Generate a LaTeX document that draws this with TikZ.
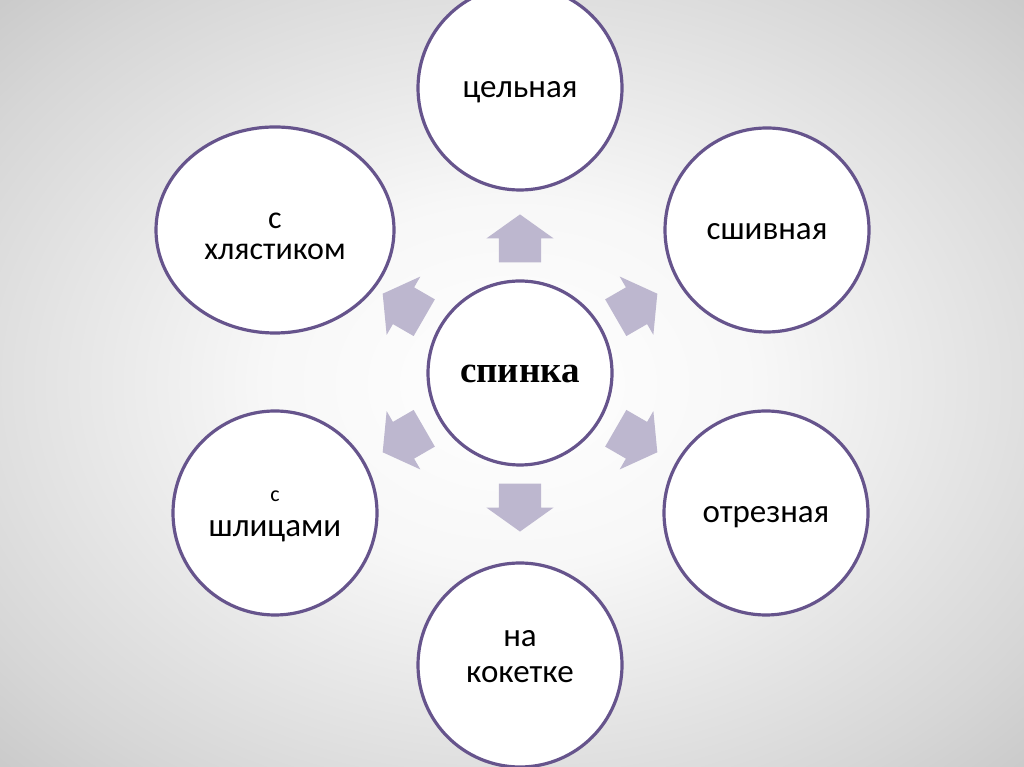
\documentclass[tikz,border=0pt]{standalone}
\usepackage{fontspec}
\setmainfont{Carlito}
\newfontfamily\titlefont{Liberation Serif}
\usetikzlibrary{shapes.geometric,shapes.arrows}
\definecolor{RingPurple}{RGB}{102,84,140}
\definecolor{ArrowLilac}{RGB}{189,183,207}
\pgfdeclareradialshading{bgglow}{\pgfpoint{0bp}{0bp}}{%
  color(0bp)=(white); color(12bp)=(white!97!black);
  color(30bp)=(white!84!black); color(50bp)=(white!67!black)}

\tikzset{
  ring/.style={circle, draw=RingPurple, line width=3.2pt, fill=white,
    minimum size=204pt, inner sep=0pt, align=center,
    text height=20pt, text depth=0pt,
    font=\fontsize{33}{36}\selectfont},
  blockarrow/.style={single arrow, fill=ArrowLilac, draw=none,
    minimum height=48pt, minimum width=67pt, inner xsep=0pt, inner ysep=21pt,
    single arrow head extend=12.5pt, single arrow tip angle=109}
}

\begin{document}
\begin{tikzpicture}[x=1pt, y=1pt]

  % --- Frame and background ---
  \useasboundingbox (0,0) rectangle (1024,767);
  \clip (0,0) rectangle (1024,767);
  \shade[shading=bgglow] (0,0) rectangle (1024,767);

  % --- Centre ---
  \node[ring, minimum size=184pt, font=\titlefont\bfseries\fontsize{37}{40}\selectfont]
    (spinka) at (520,394) {спинка};

  % --- Outer rings ---
  \node[ring] (celnaya)  at (520,679) {цельная};
  \node[ring] (sshivnaya) at (767,537) {сшивная};
  \node[ring] (otreznaya) at (766,254) {отрезная};
  \node[ring, text height=36pt, font=\fontsize{33}{36}\selectfont] (koketka)
    at (520,102) {на\\кокетке};
  \node[ring, text height=48pt, font=\fontsize{33}{35}\selectfont] (shlitsy)
    at (275,254) {{\fontsize{22}{24}\selectfont с}\\шлицами};
  \node[ring, ellipse, minimum width=238pt, minimum height=206pt, text height=60pt,
    font=\fontsize{32}{31}\selectfont] (hlyastik) at (275,537) {с\\хлястиком};

  % --- Block arrows round the centre ---
  \foreach \a/\nm in {90/up, 30/upright, -30/downright, -90/down, -150/downleft, 150/upleft} {
    \path (spinka.center) ++(\a:127) node[blockarrow, rotate=\a] (arr-\nm) {};
  }

\end{tikzpicture}
\end{document}
